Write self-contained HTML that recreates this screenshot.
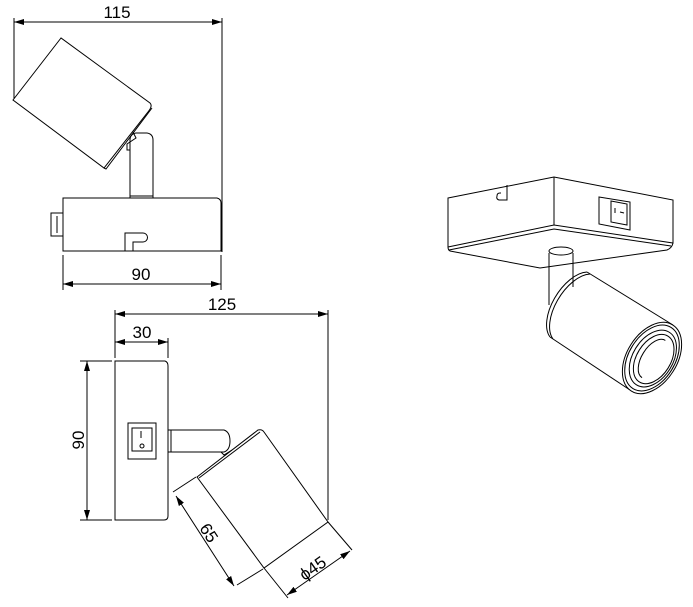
<!DOCTYPE html>
<html><head><style>
html,body{margin:0;padding:0;background:#fff;width:693px;height:607px;overflow:hidden}
svg{display:block}
text{font-family:"Liberation Sans",Arial,sans-serif;font-size:17px;fill:#000}
</style></head><body>
<svg width="693" height="607" viewBox="0 0 693 607" xmlns="http://www.w3.org/2000/svg">
<defs>
<marker id="a" viewBox="0 0 10 6" refX="10" refY="3" markerWidth="10" markerHeight="6" orient="auto-start-reverse" markerUnits="userSpaceOnUse">
<path d="M0,0 L10,3 L0,6 Z" fill="#000"/></marker>
</defs>
<g fill="none" stroke="#000" stroke-width="1">
<!-- TOP VIEW -->
<line x1="14" y1="22" x2="222" y2="22" marker-start="url(#a)" marker-end="url(#a)"/>
<line x1="14" y1="18" x2="14" y2="99"/>
<line x1="222" y1="18" x2="222" y2="252"/>
<path d="M61,38 L13,100 L104,168 L148,112 Q153,106 150,103 Z"/>
<path d="M104,168 L106,169 L152,108"/>
<path d="M130,198 L130,140 Q130,134 136,133 L147,133 Q153,134 153,140 L153,198"/>
<path d="M130,196 L153,196"/>
<path d="M130,150 L127,150 L127,144 L136,138 L133,132"/>
<path d="M63,251 L63,198 L217,198 Q221,199 221,203 L221,251 Z"/>
<path d="M125,251 L125,233 L143,233 A4.5,4.5 0 0 1 143,242 L133,242 L133,251"/>
<rect x="51" y="213" width="12" height="23"/>
<line x1="57" y1="216" x2="57" y2="233"/>
<line x1="63" y1="255" x2="63" y2="290"/>
<line x1="221" y1="255" x2="221" y2="290"/>
<line x1="63" y1="284" x2="221" y2="284" marker-start="url(#a)" marker-end="url(#a)"/>
<!-- SIDE VIEW -->
<line x1="115" y1="314" x2="328" y2="314" marker-start="url(#a)" marker-end="url(#a)"/>
<line x1="115" y1="310" x2="115" y2="358"/>
<line x1="328" y1="310" x2="328" y2="520"/>
<line x1="115" y1="342" x2="168" y2="342" marker-start="url(#a)" marker-end="url(#a)"/>
<line x1="168" y1="338" x2="168" y2="358"/>
<path d="M115,361 L165,361 Q168,362 168,366 L168,516 Q168,520 164,520 L115,520 Z"/>
<rect x="128" y="423" width="28" height="36"/>
<rect x="132" y="428" width="20" height="23"/>
<line x1="141" y1="431" x2="141" y2="438"/>
<circle cx="142" cy="446" r="2"/>
<line x1="87" y1="361" x2="87" y2="520" marker-start="url(#a)" marker-end="url(#a)"/>
<line x1="80" y1="361" x2="112" y2="361"/>
<line x1="80" y1="520" x2="112" y2="520"/>
<path d="M168,430 L224,430 Q230,432 230,441 Q230,450 224,452 L168,452"/>
<line x1="171" y1="430" x2="171" y2="452"/>
<path d="M221,452 L224,455 L232,450"/>
<path d="M197,477 L258,430 Q262,429 264,432 L328,522 L264,568 Z"/>
<path d="M199,478 L260,432"/>
<line x1="173" y1="492" x2="196" y2="477"/>
<line x1="237" y1="585" x2="263" y2="569"/>
<line x1="176" y1="496" x2="234" y2="586" marker-start="url(#a)" marker-end="url(#a)"/>
<line x1="328" y1="522" x2="352" y2="550"/>
<line x1="264" y1="568" x2="288" y2="598"/>
<line x1="287" y1="595" x2="350" y2="551" marker-start="url(#a)" marker-end="url(#a)"/>
<!-- ISO VIEW -->
<path d="M448,198 L554,177 L673,200 L673,243 L554,225 L448,247 Z"/>
<line x1="554" y1="177" x2="554" y2="225"/>
<path d="M449,250 L554,229 L671,246"/>
<path d="M450,251 L540,268 L667,250 Q672,248 673,243"/>
<path d="M448,247 Q448,250 450,251"/>
<path d="M507,185 L507,200 L499,200 Q496,199 497,196 Q497,193 500,193 L501,193"/>
<path d="M599,197 L630,202 L630,230 L599,224 Z"/>
<path d="M611,201 L627,204 L627,225 L611,222 Z"/>
<line x1="615" y1="208" x2="615" y2="213"/>
<line x1="620" y1="212" x2="624" y2="213"/>
<path d="M549,253 L549,305 M573,253 L573,287"/>
<ellipse cx="561" cy="251" rx="12" ry="4"/>
<path d="M587,272 L673,325"/>
<path d="M550,337 L630,390"/>
<path d="M587,272 A21,39 32 0 0 550,337"/>
<path d="M590,274 A21,39 32 0 0 553,339"/>
<g transform="rotate(32 652 358)">
<ellipse cx="652" cy="358" rx="25" ry="39"/>
<ellipse cx="652" cy="358" rx="23" ry="36"/>
<ellipse cx="653" cy="358" rx="20" ry="31"/>
<ellipse cx="654" cy="358" rx="17" ry="27"/>
<path d="M654,336 A12,22 0 0 0 654,380"/>
</g>
</g>
<text x="117" y="18" text-anchor="middle">115</text>
<text x="141" y="280" text-anchor="middle">90</text>
<text x="222" y="310" text-anchor="middle">125</text>
<text x="142" y="338" text-anchor="middle">30</text>
<text transform="translate(84,440) rotate(-90)" text-anchor="middle">90</text>
<text transform="translate(204,536) rotate(57)" text-anchor="middle">65</text>
<text transform="translate(316,573) rotate(-35)" text-anchor="middle">ϕ45</text>
</svg>
</body></html>
